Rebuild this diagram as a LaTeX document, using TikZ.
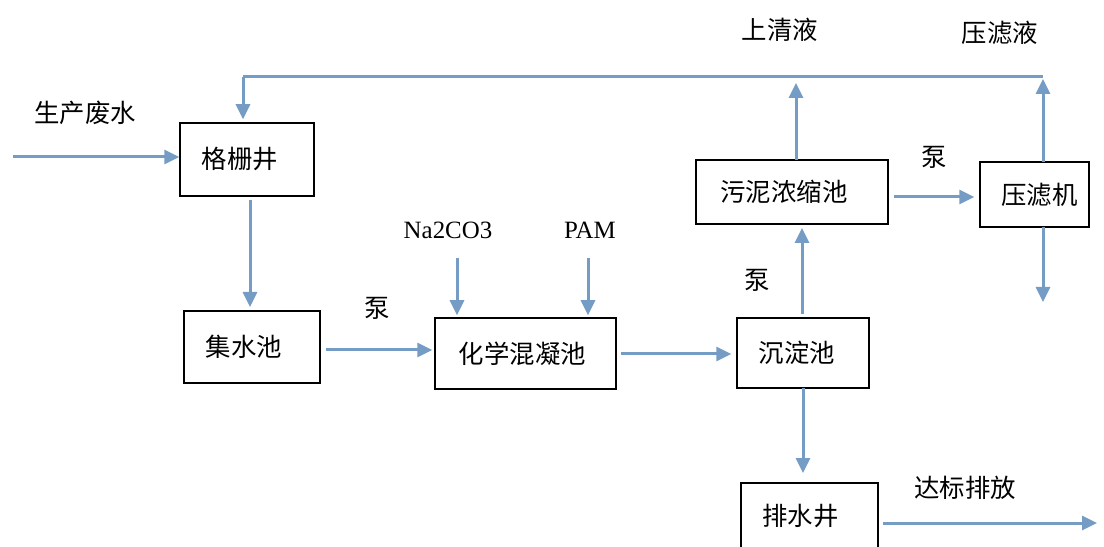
\documentclass[tikz,border=0pt]{standalone}
\usepackage{fontspec}
\setmainfont{Liberation Serif}
\newfontfamily\cjk{Noto Sans CJK SC}
\usetikzlibrary{arrows.meta}
\definecolor{flow}{RGB}{116,156,196}
\tikzset{
  box/.style={draw=black, line width=1.5bp, minimum width=#1, inner sep=0pt},
  cn/.style={font=\cjk\fontsize{25.5}{30}\selectfont, inner sep=0pt},
  lat/.style={font=\fontsize{25}{30}\selectfont, inner sep=0pt},
  arr/.style={draw=flow, line width=3bp, -{Triangle[length=15bp,width=14bp]}},
  ln/.style={draw=flow, line width=3bp}
}
\begin{document}
\begin{tikzpicture}[x=1bp,y=-1bp]
\useasboundingbox (0,0) rectangle (1104,547);
\clip (0,0) rectangle (1104,547);
% boxes
\node[box=134bp, minimum height=73bp, cn] (gezha) at (247,159.5) {\raisebox{3bp}{格栅井}\hspace*{14bp}};
\node[box=136bp, minimum height=72bp, cn] (jishui) at (252,347) {集水池\hspace*{16bp}};
\node[box=181bp, minimum height=71bp, cn] (hunning) at (525.5,353.5) {化学混凝池\hspace*{6bp}};
\node[box=132bp, minimum height=70bp, cn] (chendian) at (803,353) {沉淀池\hspace*{12bp}};
\node[box=192bp, minimum height=64bp, cn] (nongsuo) at (792,192) {污泥浓缩池\hspace*{16bp}};
\node[box=109bp, minimum height=65bp, cn] (yalv) at (1034.5,194.5) {\hspace*{10bp}压滤机};
\node[box=137bp, minimum height=70bp, cn, text depth=0pt] (paishui) at (809.5,518) {\raisebox{6bp}{排水井}\hspace*{18bp}};
% labels
\node[cn] (lfeed) at (85,113) {生产废水};
\node[cn] (lpump1) at (377,308) {泵};
\node[cn] (lpump2) at (757,280) {泵};
\node[cn] (lpump3) at (934,157) {泵};
\node[cn] (lsup) at (780,30) {上清液};
\node[cn] (lfilt) at (1000,33) {压滤液};
\node[cn] (lout) at (965,488) {达标排放};
\node[lat] (lna) at (448,230) {Na2CO3};
\node[lat] (lpam) at (590,230) {PAM};
% coordinates
\coordinate (feed) at (13,157);
\coordinate (topR) at (1043,77);
\coordinate (topL) at (243,77);
\coordinate (naS) at (457,258);
\coordinate (pamS) at (588,258);
\coordinate (outE) at (1097,523);
\coordinate (yalvD) at (1043,302);
% connectors
\draw[arr] (feed) -- (feed -| gezha.west);
\draw[arr, shorten <=4bp, shorten >=4bp] (250,196) -- (250,311);
\draw[arr, shorten <=5bp, shorten >=2bp] (jishui.east |- 0,350) -- (hunning.west |- 0,350);
\draw[arr, shorten >=2bp] (naS) -- (naS |- hunning.north);
\draw[arr, shorten >=2bp] (pamS) -- (pamS |- hunning.north);
\draw[arr, shorten <=4bp, shorten >=5bp] (hunning.east |- 0,354) -- (chendian.west |- 0,354);
\draw[arr, shorten <=4bp, shorten >=4bp] (802,318) -- (802,224);
\draw[arr, shorten >=3bp] (796,160) -- (796,80);
\draw[arr, shorten <=5bp, shorten >=5bp] (nongsuo.east |- 0,197) -- (yalv.west |- 0,197);
\draw[arr, shorten >=2bp] (1043,162) -- (topR);
\draw[arr] (1043,227) -- (yalvD);
\draw[ln] (topR) -- (topL);
\draw[arr, line join=round, shorten >=3bp] (topL) -- (topL |- gezha.north);
\draw[arr, shorten >=10bp] (803,388) -- (803,483);
\draw[arr, shorten <=4bp] (paishui.east |- outE) -- (outE);
\end{tikzpicture}
\end{document}
